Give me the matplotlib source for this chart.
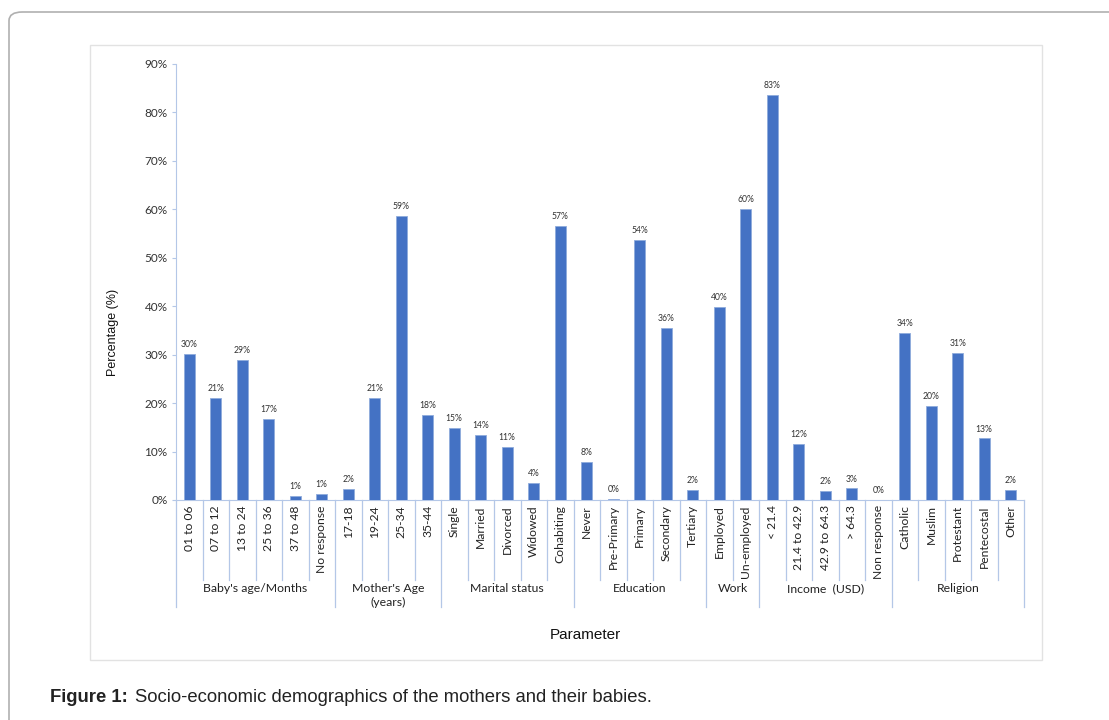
import matplotlib.pyplot as plt
from matplotlib.patches import Rectangle, FancyBboxPatch

####### DATA #######
groups = ["Baby's age/Months", "Mother's Age\n(years)", "Marital status",
          "Education", "Work", "Income  (USD)", "Religion"]
group_sizes = [6, 4, 5, 5, 2, 5, 5]
categories = ["01 to 06", "07 to 12", "13 to 24", "25 to 36", "37 to 48", "No response",
              "17-18", "19-24", "25-34", "35-44",
              "Single", "Married", "Divorced", "Widowed", "Cohabiting",
              "Never", "Pre-Primary", "Primary", "Secondary", "Tertiary",
              "Employed", "Un-employed",
              "< 21.4", "21.4 to 42.9", "42.9 to 64.3", "> 64.3", "Non response",
              "Catholic", "Muslim", "Protestant", "Pentecostal", "Other"]
values = [30.1, 21.1, 29.0, 16.7, 0.9, 1.2,
          2.2, 21.1, 58.6, 17.5,
          14.8, 13.5, 10.9, 3.5, 56.6,
          7.9, 0.2, 53.7, 35.5, 2.1,
          39.8, 60.1,
          83.6, 11.6, 1.9, 2.4, 0.0,
          34.5, 19.5, 30.4, 12.7, 2.1]
value_labels = ["30%", "21%", "29%", "17%", "1%", "1%",
                "2%", "21%", "59%", "18%",
                "15%", "14%", "11%", "4%", "57%",
                "8%", "0%", "54%", "36%", "2%",
                "40%", "60%",
                "83%", "12%", "2%", "3%", "0%",
                "34%", "20%", "31%", "13%", "2%"]
yticks = [0, 10, 20, 30, 40, 50, 60, 70, 80, 90]

####### STYLE #######
BAR = "#4472C4"
LINE = "#B4C7E7"
TXT = "#333333"
W, H = 1109, 720

fig = plt.figure(figsize=(W / 100, H / 100), dpi=100)

# frames
fig.add_artist(FancyBboxPatch((9 / W, -0.2), 1.2, (720 - 12) / H + 0.2,
                              boxstyle="round,pad=0,rounding_size=0.012",
                              transform=fig.transFigure, fill=False,
                              edgecolor="#b0b0b0", linewidth=1.2))
fig.add_artist(Rectangle((90 / W, 1 - 660 / H), (1042 - 90) / W, (660 - 45) / H,
                         transform=fig.transFigure, fill=False,
                         edgecolor="#e2e2e2", linewidth=1.0))

ax = fig.add_axes([176 / W, 1 - 500 / H, (1024 - 176) / W, (500 - 64) / H])
x = list(range(len(categories)))
ax.bar(x, values, width=0.4, color=BAR, edgecolor="#8fabdc", linewidth=0.6, zorder=3)
for xi, v, lab in zip(x, values, value_labels):
    ax.text(xi, v + 1.0, lab, ha="center", va="bottom", fontsize=6.2, color=TXT,
            family="Lato")

ax.set_xlim(-0.5, len(categories) - 0.5)
ax.set_ylim(0, 90)
ax.set_yticks(yticks)
ax.set_yticklabels([f"{t}%" for t in yticks], fontsize=8.5, color=TXT, family="Lato")
ax.tick_params(axis="y", length=3, color=LINE, pad=3)
ax.set_xticks([])
for s in ["top", "right"]:
    ax.spines[s].set_visible(False)
ax.spines["left"].set_color(LINE)
ax.spines["bottom"].set_color(LINE)

# category labels and separators
tr = ax.get_xaxis_transform()
cat_bottom = -(580 - 500) / 436
grp_bottom = -(607 - 500) / 436
for xi, lab in zip(x, categories):
    ax.text(xi, -0.012, lab, rotation=90, ha="center", va="top", fontsize=8.7,
            color="#222222", family="Lato", transform=tr)
group_edges = [0]
for n in group_sizes:
    group_edges.append(group_edges[-1] + n)
for i in range(len(categories) + 1):
    bottom = grp_bottom if i in group_edges else cat_bottom
    ax.plot([i - 0.5, i - 0.5], [0, bottom], color=LINE, linewidth=0.9,
            transform=tr, clip_on=False)
for g, a, b in zip(groups, group_edges[:-1], group_edges[1:]):
    ax.text((a + b - 1) / 2, -(583 - 500) / 436, g, ha="center", va="top",
            fontsize=8.8, color="#222222", family="Lato", transform=tr,
            linespacing=1.3)

fig.text(113 / W, 1 - 332 / H, "Percentage (%)", rotation=90, ha="center",
         va="center", fontsize=9, family="Liberation Sans", color="#111111")
fig.text(585 / W, 1 - 635 / H, "Parameter", ha="center", va="center",
         fontsize=11, family="Liberation Sans", color="#111111")

fig.text(50 / W, 1 - 697 / H, "Figure 1:", ha="left", va="center", fontsize=13.3,
         fontweight="bold", family="Liberation Sans", color="#222222")
fig.text(135 / W, 1 - 697 / H, "Socio-economic demographics of the mothers and their babies.",
         ha="left", va="center", fontsize=13.3, family="Liberation Sans", color="#222222")

fig.savefig("out.png", dpi=100)
